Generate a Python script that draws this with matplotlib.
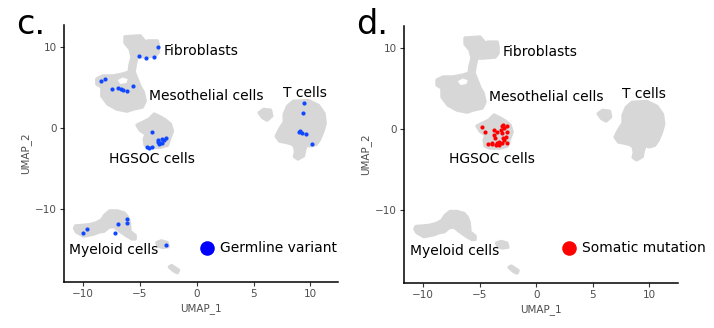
import matplotlib
matplotlib.use("Agg")
import matplotlib.pyplot as plt
from matplotlib.patches import Polygon

# cluster outlines in UMAP space, (UMAP_1, UMAP_2)
fib_meso_outline = [
    (-6.30, 11.25), (-4.97, 11.37), (-4.53, 10.63), (-4.26, 10.75), (-3.46, 10.75),
    (-3.37, 10.14), (-3.37, 9.39), (-3.64, 8.90), (-4.70, 8.78), (-5.24, 8.78),
    (-5.41, 7.79), (-5.50, 6.92), (-4.97, 5.07), (-4.70, 4.45), (-4.53, 3.34),
    (-4.79, 2.60), (-5.59, 2.35), (-6.12, 2.10), (-7.01, 2.35), (-7.81, 2.97),
    (-8.34, 3.96), (-8.34, 5.07), (-8.78, 5.44), (-8.78, 6.06), (-8.25, 6.43),
    (-7.36, 6.43), (-6.48, 6.67), (-5.94, 6.92), (-5.86, 7.79), (-5.68, 8.78),
    (-5.86, 9.77), (-6.30, 10.51),
]
meso_hole = [(-6.9, 5.9), (-6.5, 6.2), (-6.1, 6.0), (-6.2, 5.6), (-6.7, 5.5)]
hgsoc_outline = [
    (-3.73, 1.73), (-3.19, 1.36), (-2.75, 0.99), (-2.31, 0.49), (-2.13, -0.37),
    (-2.40, -1.36), (-2.57, -2.10), (-3.19, -2.35), (-4.08, -2.35), (-4.53, -2.10),
    (-4.61, -1.36), (-4.44, -0.74), (-4.97, -0.25), (-5.24, 0.37), (-4.70, 0.74),
    (-4.17, 1.11),
]
tcell_outline = [
    (8.5, 3.3), (9.8, 3.4), (10.7, 2.8), (11.2, 1.8), (11.3, 0.6), (11.1, -0.4),
    (10.8, -1.4), (10.5, -2.0), (10.0, -2.2), (9.7, -2.0), (9.5, -2.6), (9.4, -3.4),
    (8.9, -3.8), (8.6, -3.5), (8.7, -2.9), (8.6, -2.2), (8.3, -1.9), (7.7, -1.7),
    (7.3, -1.6), (7.0, -1.0), (7.2, -0.4), (7.4, 0.1), (7.7, 0.7), (7.7, 1.7),
    (8.0, 2.7),
]
tcell_small = [(5.5, 1.9), (5.9, 2.3), (6.5, 2.2), (6.6, 1.5), (6.2, 1.0), (5.8, 1.3)]
myeloid_outline = [
    (-10.74, -12.36), (-10.56, -12.80), (-9.94, -13.30), (-9.05, -13.05),
    (-8.61, -12.80), (-8.16, -12.70), (-7.72, -12.20), (-7.28, -12.10),
    (-6.74, -12.70), (-6.12, -13.30), (-5.68, -13.65), (-5.41, -13.65),
    (-5.41, -13.23), (-5.86, -12.73), (-5.94, -11.50), (-6.12, -10.88),
    (-6.39, -10.45), (-7.01, -10.20), (-7.63, -10.20), (-8.07, -10.70),
    (-8.34, -11.30), (-8.78, -11.65), (-9.41, -11.90), (-10.12, -12.00),
    (-10.65, -12.05),
]
myeloid_piece = [(-3.5, -14.1), (-3.1, -13.9), (-2.6, -14.1), (-2.5, -14.6), (-3.0, -14.7), (-3.4, -14.5)]
myeloid_tail = [(-2.4, -17.1), (-2.2, -16.95), (-1.6, -17.5), (-1.7, -17.8), (-2.0, -17.6)]

# cells carrying a germline variant
germline_x = [-3.43, -5.05, -4.49, -3.76,
              -8.44, -8.04, -7.48, -6.90, -6.68, -6.46, -6.16, -5.58,
              -3.96, -4.40, -4.17, -3.90, -3.43, -3.23, -3.03, -2.85, -2.73, -3.08, -3.29, -3.38,
              9.46, 9.32, 9.09, 9.23, 9.03, 9.61, 10.17,
              -9.97, -9.62, -7.19, -6.90, -6.16, -6.10, -2.70]
germline_y = [10.05, 8.94, 8.69, 8.82,
              5.83, 6.03, 4.84, 4.93, 4.80, 4.72, 4.63, 5.21,
              -0.42, -2.34, -2.39, -2.34, -1.65, -1.85, -1.77, -1.44, -1.16, -1.35, -1.93, -1.44,
              3.15, 1.85, -0.33, -0.54, -0.49, -0.74, -1.97,
              -12.89, -12.40, -12.89, -11.79, -11.17, -11.66, -14.46]

# cells carrying a somatic mutation
somatic_x = [-4.84, -4.51, -3.77, -3.77, -3.64, -3.88, -4.23, -3.49, -3.26, -3.04,
             -3.13, -2.99, -2.81, -2.60, -2.60, -2.69, -2.81, -3.04, -3.26, -3.55,
             -3.93, -2.60, -2.95, -3.46, -2.93]
somatic_y = [0.27, -0.31, -0.12, -0.74, -1.15, -1.77, -1.89, -1.77, -1.57, 0.37,
             -0.12, -0.53, 0.09, 0.37, -0.33, -0.95, -1.36, -1.77, -1.98, -1.98,
             -1.89, -1.77, -1.15, -0.33, 0.49]

cell_types = ["Fibroblasts", "Mesothelial cells", "T cells", "HGSOC cells", "Myeloid cells"]
label_pos = [(-2.95, 9.55), (-4.15, 3.95), (7.6, 4.3), (-7.7, -3.75), (-11.2, -15.05)]

GREY = "#d7d7d7"


def draw_umap(ax, xs, ys, color, key_color, key_text, key_xy, xlim, ylim):
    for outline in [fib_meso_outline, hgsoc_outline, tcell_outline, tcell_small,
                    myeloid_outline, myeloid_piece, myeloid_tail]:
        ax.add_patch(Polygon(outline, closed=True, facecolor=GREY, edgecolor=GREY,
                             linewidth=2.5, joinstyle="round", zorder=1))
    ax.add_patch(Polygon(meso_hole, closed=True, facecolor="white", edgecolor="white",
                         linewidth=0.5, zorder=1.5))
    ax.scatter(xs, ys, s=9, color=color, linewidths=0, zorder=3)

    for name, (lx, ly) in zip(cell_types, label_pos):
        ax.text(lx, ly, name, fontsize=10, ha="left", va="center", color="black", zorder=4)

    # hand-made key in the lower right
    ax.scatter([key_xy[0]], [key_xy[1]], s=110, color=key_color, linewidths=0, zorder=4)
    ax.text(key_xy[0] + 1.15, key_xy[1], key_text, fontsize=10, ha="left", va="center")

    ax.set_xlim(*xlim)
    ax.set_ylim(*ylim)
    ax.set_xticks([-10, -5, 0, 5, 10])
    ax.set_yticks([-10, 0, 10])
    for side in ["top", "right"]:
        ax.spines[side].set_visible(False)
    for side in ["left", "bottom"]:
        ax.spines[side].set_linewidth(1.1)
    ax.tick_params(length=3, width=0.8, color="#333333", labelsize=7.5,
                   labelcolor="#4d4d4d", pad=2)
    ax.set_xlabel("UMAP_1", fontsize=7.5, color="#4d4d4d", labelpad=3)
    ax.set_ylabel("UMAP_2", fontsize=7.5, color="#4d4d4d", labelpad=3)


fig = plt.figure(figsize=(7.14, 3.28), dpi=100)
ax_c = fig.add_axes([0.0896, 0.140, 0.3838, 0.7835])
ax_d = fig.add_axes([0.5658, 0.137, 0.3838, 0.7835])

draw_umap(ax_c, germline_x, germline_y, "#1048ff", "#0000ff", "Germline variant",
          (0.93, -14.8), (-11.67, 12.43), (-18.97, 12.7))
draw_umap(ax_d, somatic_x, somatic_y, "#ff0000", "#ff0000", "Somatic mutation",
          (2.9, -14.75), (-11.71, 12.57), (-19.04, 12.73))

fig.text(16 / 714, 1 - 34 / 328, "c.", fontsize=24, ha="left", va="baseline")
fig.text(356 / 714, 1 - 34 / 328, "d.", fontsize=24, ha="left", va="baseline")

fig.savefig("out.png", dpi=100)
